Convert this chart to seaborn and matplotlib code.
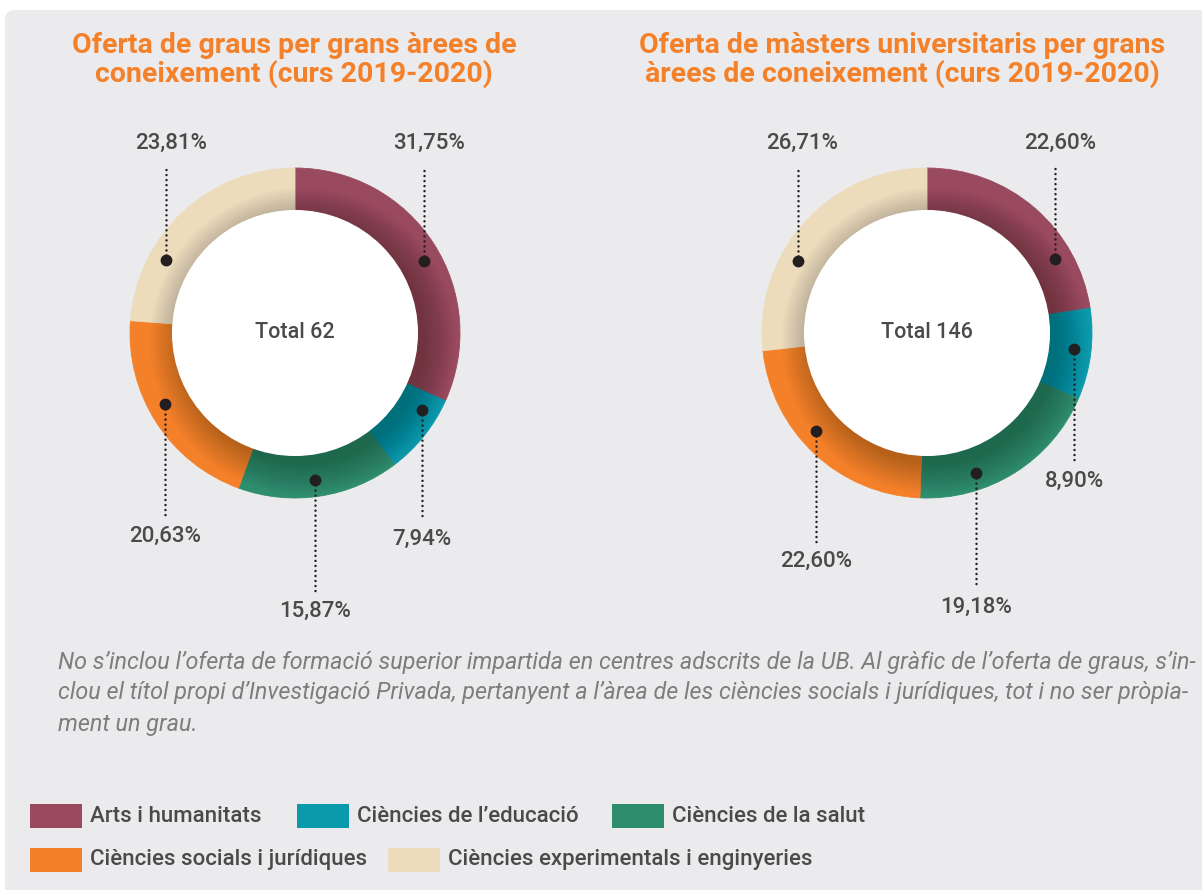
import numpy as np
import matplotlib
matplotlib.use("Agg")
import matplotlib.pyplot as plt
from matplotlib.patches import Circle, Rectangle, FancyBboxPatch
import seaborn as sns

# --- data ---
categories = ["Arts i humanitats", "Ciències de l’educació", "Ciències de la salut",
              "Ciències socials i jurídiques", "Ciències experimentals i enginyeries"]
graus_pct = [31.75, 7.94, 15.87, 20.63, 23.81]
masters_pct = [22.60, 8.90, 19.18, 22.60, 26.71]
graus_total = 62
masters_total = 146
title_graus = "Oferta de graus per grans àrees de\nconeixement (curs 2019-2020)"
title_masters = "Oferta de màsters universitaris per grans\nàrees de coneixement (curs 2019-2020)"
note_lines = [
    "No s’inclou l’oferta de formació superior impartida en centres adscrits de la UB. Al gràfic de l’oferta de graus, s’in-",
    "clou el títol propi d’Investigació Privada, pertanyent a l’àrea de les ciències socials i jurídiques, tot i no ser pròpia-",
    "ment un grau.",
]
colors = sns.color_palette(["#9a4a5f", "#0b99ac", "#2e8d6d", "#f4812a", "#ecdcbc"])

# leader layout (angle clockwise from top, label y in pixels from top)
graus_lead_ang = [60.7, 121.2, 172.3, 241.5, 299.5]
graus_label_y = [143, 539, 611, 536, 143]
masters_lead_ang = [60.2, 96.2, 160.5, 228.6, 299.0]
masters_label_y = [143, 481, 607, 561, 143]

W, H = 1202, 890
sns.set_theme(style="white")
plt.rcParams["font.family"] = ["Roboto", "DejaVu Sans"]

fig = plt.figure(figsize=(W / 100, H / 100), dpi=100, facecolor="white")
ax = fig.add_axes([0, 0, 1, 1])
ax.set_xlim(0, W)
ax.set_ylim(0, H)
ax.axis("off")

# grey panel
ax.add_patch(FancyBboxPatch((5, -20), W + 20, H - 10 + 20,
                            boxstyle="round,pad=0,rounding_size=10",
                            fc="#ebebed", ec="none", zorder=0))

R_OUT, R_IN, R_DOT = 165, 123, 148
TXT = "#4a4a4a"


def donut(cx, cy_top, pct, total, title, title_x, lead_ang, label_y):
    cy = H - cy_top
    wedges, _ = ax.pie(pct, colors=colors, startangle=90, counterclock=False,
                       radius=R_OUT, center=(cx, cy), frame=True,
                       wedgeprops=dict(width=R_OUT - R_IN, linewidth=0.6))
    for w in wedges:
        w.set_zorder(2)
        w.set_edgecolor(w.get_facecolor())
    # inner shadow, cast towards lower right
    clip = Circle((cx, cy), R_OUT, transform=ax.transData)
    for k in range(16):
        c = Circle((cx + 8, cy - 8), R_IN + 2 * k, fc="black", ec="none",
                   alpha=0.016, zorder=3)
        ax.add_patch(c)
        c.set_clip_path(clip)
    ax.add_patch(Circle((cx, cy), R_IN, fc="white", ec="none", zorder=4))
    ax.text(cx, cy, f"Total {total}", ha="center", va="center", fontsize=15.5,
            color=TXT, fontweight="medium", zorder=5)
    ax.text(title_x, H - 60, title, ha="center", va="center", fontsize=20.5,
            fontweight="bold", color="#f4812a", linespacing=1.08)
    for p, a, ly in zip(pct, lead_ang, label_y):
        t = np.deg2rad(a)
        dx, dy = cx + R_DOT * np.sin(t), cy + R_DOT * np.cos(t)
        y_lab = H - ly
        if y_lab > dy:
            y_end = y_lab - 23
            lx = dx + 5
        else:
            y_end = y_lab + 19
            lx = dx
        ax.plot([dx, dx], [dy, y_end], color="#231f20", lw=1.8,
                linestyle=(0, (0.01, 2.0)), dash_capstyle="round", zorder=6)
        ax.plot([dx], [dy], "o", color="#231f20", ms=7.5, zorder=7)
        ax.text(lx, y_lab, f"{p:.2f}%".replace(".", ","), ha="center", va="center",
                fontsize=16, fontweight="medium", color=TXT, zorder=7)


donut(295, 333, graus_pct, graus_total, title_graus, 294, graus_lead_ang, graus_label_y)
donut(927, 333, masters_pct, masters_total, title_masters, 902, masters_lead_ang, masters_label_y)
ax.set_xlim(0, W)
ax.set_ylim(0, H)
ax.set_aspect("auto")

# note
for i, line in enumerate(note_lines):
    ax.text(58, H - (662 + 31 * i), line, ha="left", va="center", fontsize=16.8,
            style="italic", color="#7d7d7d")

# legend
leg_x = [30, 297, 612, 30, 388]
leg_y = [816, 816, 816, 860, 860]
for col, lab, lx, ly in zip(colors, categories, leg_x, leg_y):
    ax.add_patch(Rectangle((lx, H - ly - 12), 52, 24, fc=col, ec="none"))
    ax.text(lx + 60, H - ly, lab, ha="left", va="center", fontsize=16,
            fontweight="medium", color=TXT)

fig.savefig("out.png", dpi=100, facecolor="white")
